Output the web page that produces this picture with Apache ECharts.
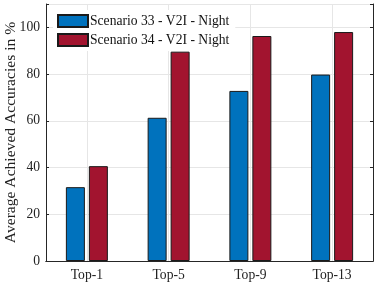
<!DOCTYPE html>
<html><head><meta charset="utf-8">
<script src="https://cdn.jsdelivr.net/npm/echarts@6/dist/echarts.min.js"></script>
<style>html,body{margin:0;padding:0;background:#fff}#c{width:378px;height:284px}</style>
</head><body><div id="c"></div>
<script>
const categories = ['Top-1', 'Top-5', 'Top-9', 'Top-13'];
const scenario33 = [31.6, 61.3, 72.8, 79.8];
const scenario34 = [40.6, 89.6, 96.3, 98.0];
const seriesNames = ['Scenario 33 - V2I - Night', 'Scenario 34 - V2I - Night'];
const yTicks = [0, 20, 40, 60, 80, 100];

const font = 'Liberation Serif';
const axisColor = '#262626';
const gridColor = '#e6e6e6';
const chart = echarts.init(document.getElementById('c'));
chart.setOption({
  animation: false,
  grid: { left: 46, right: 5, top: 4, bottom: 23, outerBoundsMode: 'none', containLabel: false },
  legend: {
    orient: 'vertical', left: 53, top: 10, padding: [4, 6, 4, 4], itemGap: 5,
    itemWidth: 30, itemHeight: 12, backgroundColor: '#fff', icon: 'rect',
    textStyle: { fontFamily: font, fontSize: 13.6, color: '#111', padding: [0, 0, 0, -3] },
    data: seriesNames
  },
  xAxis: [{
    type: 'category', data: categories,
    axisLine: { lineStyle: { color: axisColor } },
    axisTick: { inside: true, alignWithLabel: true, length: 3, lineStyle: { color: axisColor } },
    axisLabel: { fontFamily: font, fontSize: 13.6, color: '#222', margin: 7 },
    splitLine: { show: true, alignWithLabel: true, showMinLine: true, showMaxLine: true,
      lineStyle: { color: gridColor } }
  }, {
    type: 'category', data: categories, position: 'top',
    axisLine: { lineStyle: { color: axisColor } },
    axisTick: { inside: true, alignWithLabel: true, length: 3, lineStyle: { color: axisColor } },
    axisLabel: { show: false }
  }],
  yAxis: [{
    type: 'value', min: 0, max: 110, interval: 20,
    name: 'Average Achieved Accuracies in %', nameLocation: 'middle', nameGap: 27,
    nameMoveOverlap: false,
    nameTextStyle: { fontFamily: font, fontSize: 15.6, color: '#222' },
    axisLine: { show: true, lineStyle: { color: axisColor } },
    axisTick: { show: true, inside: true, length: 3, lineStyle: { color: axisColor } },
    axisLabel: { fontFamily: font, fontSize: 13.6, color: '#222', margin: 6,
      formatter: v => yTicks.includes(v) ? String(v) : '' },
    splitLine: { show: true, lineStyle: { color: gridColor } }
  }, {
    type: 'value', min: 0, max: 110, interval: 20, position: 'right',
    axisLine: { show: true, lineStyle: { color: axisColor } },
    axisTick: { show: true, inside: true, length: 3, lineStyle: { color: axisColor } },
    axisLabel: { show: false }, splitLine: { show: false }
  }],
  series: [{
    name: seriesNames[0], type: 'bar', data: scenario33, barWidth: 19, barGap: '21%',
    itemStyle: { color: '#0072BD', borderColor: '#1a1a1a', borderWidth: 1 }
  }, {
    name: seriesNames[1], type: 'bar', data: scenario34, barWidth: 19,
    itemStyle: { color: '#A2142F', borderColor: '#1a1a1a', borderWidth: 1 }
  }]
});
</script></body></html>
